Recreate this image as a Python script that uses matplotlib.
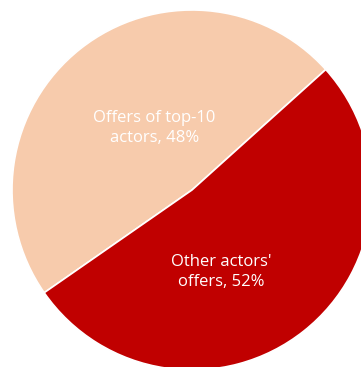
import matplotlib.pyplot as plt

# Datos del gráfico
etiquetas = ["Offers of top-10\nactors, 48%", "Other actors'\noffers, 52%"]
porcentajes = [48, 52]
colores = ["#F7CBAC", "#C00000"]

fig = plt.figure(figsize=(3.61, 3.67), dpi=100)
ax = fig.add_axes([0, 0, 1, 1])

# Pastel grande, recortado por los bordes derecho e inferior
cunas, _ = ax.pie(porcentajes, colors=colores, startangle=42, counterclock=True,
                  radius=1.0, wedgeprops=dict(edgecolor="white", linewidth=1.2))

# Etiquetas dentro de cada sector
posiciones = [(-0.21, 0.345), (0.16, -0.455)]
for texto, (x, y) in zip(etiquetas, posiciones):
    ax.text(x, y, texto, ha="center", va="center", color="white",
            fontsize=12, family=["Open Sans", "DejaVu Sans"], linespacing=1.4)

ax.set_aspect("auto")
ax.set_xlim(-192 / 180, (361 - 192) / 180)
ax.set_ylim(-(367 - 190) / 180, 190 / 180)
ax.axis("off")

fig.savefig("out.png", dpi=100)
